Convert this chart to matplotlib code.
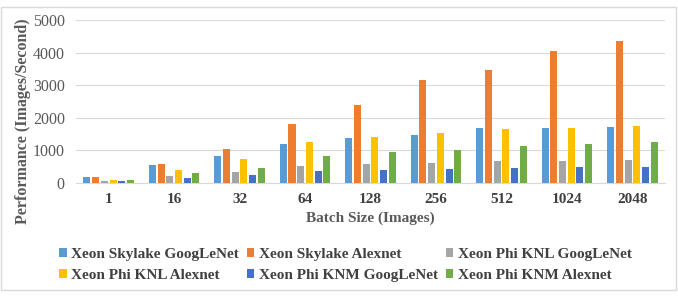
import matplotlib

matplotlib.use("Agg")
import matplotlib.pyplot as plt
import numpy as np
from matplotlib.patches import Rectangle

batch_sizes = ["1", "16", "32", "64", "128", "256", "512", "1024", "2048"]
series_names = [
    "Xeon Skylake GoogLeNet",
    "Xeon Skylake Alexnet",
    "Xeon Phi KNL GoogLeNet",
    "Xeon Phi KNL Alexnet",
    "Xeon Phi KNM GoogLeNet",
    "Xeon Phi KNM Alexnet",
]
skylake_googlenet = [185, 546, 825, 1196, 1371, 1474, 1690, 1700, 1732]
skylake_alexnet = [185, 588, 1030, 1825, 2392, 3175, 3464, 4062, 4371]
knl_googlenet = [50, 206, 340, 526, 588, 608, 660, 660, 690]
knl_alexnet = [100, 392, 750, 1258, 1412, 1536, 1660, 1700, 1753]
knm_googlenet = [50, 155, 237, 360, 402, 433, 464, 474, 474]
knm_alexnet = [75, 300, 464, 835, 948, 1020, 1134, 1196, 1247]

colors = ["#5B9BD5", "#ED7D31", "#A5A5A5", "#FFC000", "#4472C4", "#70AD47"]

plt.rcParams["font.family"] = ["Liberation Serif", "DejaVu Serif"]

fig = plt.figure(figsize=(6.78, 2.96), dpi=100)
ax = fig.add_axes([0.112, 0.382, 0.869, 0.550])

values = [skylake_googlenet, skylake_alexnet, knl_googlenet,
          knl_alexnet, knm_googlenet, knm_alexnet]
x = np.arange(len(batch_sizes))
pitch = 0.133
width = 0.107
bars = []
for i, (name, vals, c) in enumerate(zip(series_names, values, colors)):
    offset = (i - 2.5) * pitch
    bars.append(ax.bar(x + offset, vals, width, color=c, label=name, zorder=3))

ax.set_xlim(-0.5, len(batch_sizes) - 0.5)
ax.set_ylim(0, 5000)
ax.set_yticks(range(0, 5001, 1000))
ax.set_xticks(x)
ax.set_xticklabels(batch_sizes, fontweight="bold", color="#404040", fontsize=11)
ax.tick_params(axis="y", labelsize=11.5, labelcolor="#595959", length=0, pad=8)
ax.tick_params(axis="x", length=0, pad=7)
ax.grid(axis="y", color="#D9D9D9", linewidth=0.8, zorder=0)
for side in ["top", "right", "left"]:
    ax.spines[side].set_visible(False)
ax.spines["bottom"].set_color("#D9D9D9")

ax.set_xlabel("Batch Size (Images)", fontsize=11, fontweight="bold",
              color="#595959", labelpad=4)
ax.set_ylabel("Performance (Images/Second)", fontsize=11.5, fontweight="bold",
              color="#595959")
ax.yaxis.set_label_coords(-0.077, 0.38)

# matplotlib fills legend columns first; reorder so entries read row by row
order = [0, 3, 1, 4, 2, 5]
leg = fig.legend([bars[i] for i in order], [series_names[i] for i in order],
                 loc="upper left", bbox_to_anchor=(0.078, 0.182), ncol=3,
                 frameon=False, prop={"weight": "bold", "size": 11},
                 handlelength=0.5, handleheight=0.5, handletextpad=0.3,
                 columnspacing=0.5, labelspacing=0.5, borderaxespad=0)
for t in leg.get_texts():
    t.set_color("#404040")

fig.patches.append(Rectangle((0.002, 0.02), 0.995, 0.955, transform=fig.transFigure,
                             fill=False, edgecolor="#D9D9D9", linewidth=1))

fig.savefig("out.png", dpi=100)
